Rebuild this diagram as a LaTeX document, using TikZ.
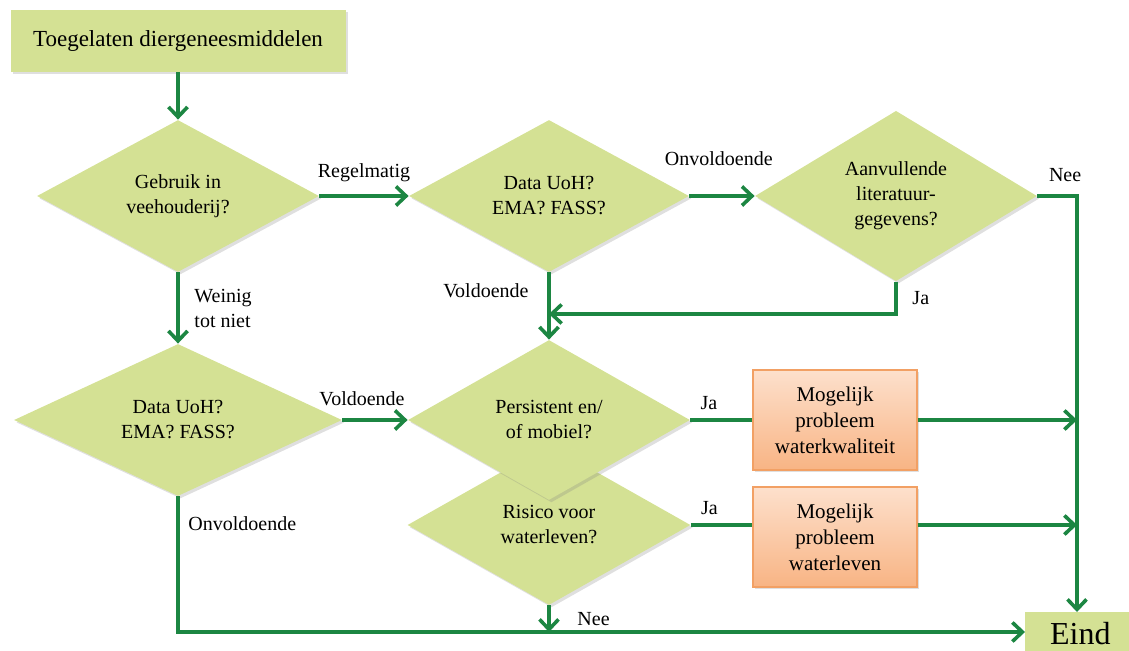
\documentclass[tikz,border=0pt]{standalone}
\usepackage{fontspec}
\setmainfont{Liberation Serif}
\usetikzlibrary{shapes.geometric,arrows.meta,shadows,positioning}

\definecolor{leaf}{RGB}{212,225,148}
\definecolor{flowgreen}{RGB}{28,134,66}
\definecolor{peachtop}{RGB}{253,224,204}
\definecolor{peachbot}{RGB}{248,180,132}
\definecolor{peachedge}{RGB}{242,160,100}

\tikzset{
  zacht/.style={drop shadow={opacity=0.25,shadow xshift=1.2pt,shadow yshift=-1.2pt}},
  keuze/.style={diamond, fill=leaf, inner sep=0pt, align=center, zacht,
    font=\fontsize{10}{12.5}\selectfont},
  blok/.style={rectangle, fill=leaf, inner sep=0pt, align=center, zacht},
  oranje/.style={rectangle, top color=peachtop, bottom color=peachbot, draw=peachedge,
    line width=0.6pt, minimum width=82pt, minimum height=50pt, align=center, zacht,
    font=\fontsize{10.5}{13}\selectfont},
  lijn/.style={draw=flowgreen, line width=1.8pt},
  pijl/.style={lijn, -{Straight Barb[length=5pt,width=9.5pt]}},
  tekst/.style={font=\fontsize{10}{12.5}\selectfont, align=left, text=black}
}

\begin{document}
\begin{tikzpicture}[x=0.5pt,y=-0.5pt]
  \useasboundingbox (0,0) rectangle (1129,651);
  % vakken
  \node[blok, minimum width=167.5pt, minimum height=31pt,
    font=\fontsize{11.5}{14}\selectfont] (start) at (178,41) {Toegelaten diergeneesmiddelen};
  \node[keuze, minimum width=141pt, minimum height=76pt] (gebruik) at (178,196) {Gebruik in\\veehouderij?};
  \node[keuze, minimum width=140pt, minimum height=76pt] (data1) at (549,196) {Data UoH?\\EMA? FASS?};
  \node[keuze, minimum width=141pt, minimum height=76pt] (aanv) at (896,196) {Aanvullende\\literatuur-\\gegevens?};
  \node[keuze, minimum width=164pt, minimum height=75pt] (data2) at (178,420) {Data UoH?\\EMA? FASS?};
  \node[keuze, minimum width=141.5pt, minimum height=80pt] (risico) at (549,525) {Risico voor\\waterleven?};
  \node[keuze, minimum width=141pt, minimum height=80pt] (pers) at (549,420) {Persistent en/\\of mobiel?};
  \node[oranje] (prob1) at (835,420) {Mogelijk\\probleem\\waterkwaliteit};
  \node[oranje] (prob2) at (835,537) {Mogelijk\\probleem\\waterleven};
  \node[blok, minimum width=55pt, minimum height=21pt, anchor=north west,
    font=\fontsize{16}{18}\selectfont] (eind) at (1025,612) {Eind};
  \coordinate (samen) at (549,314);
  % pijlen
  \draw[pijl] (start.south) -- (gebruik.north);
  \draw[pijl] (gebruik.east) -- node[tekst, above=3pt] {Regelmatig} (data1.west);
  \draw[pijl] (data1.east) -- node[tekst, above=11pt, pos=0.45] {Onvoldoende} (aanv.west);
  \draw[pijl] (aanv.east) -| node[tekst, above=3pt, pos=0.35] {Nee} (eind.north -| 1077,0);
  \draw[pijl] (aanv.south) |- node[tekst, right=4pt, pos=0.25] {Ja} (samen);
  \draw[pijl] (data1.south) -- node[tekst, left=6pt, pos=0.27] {Voldoende} (pers.north);
  \draw[pijl] (gebruik.south) -- node[tekst, right=4pt] {Weinig\\tot niet} (data2.north);
  \draw[pijl] (data2.east) -- node[tekst, above=3pt, pos=0.3] {Voldoende} (pers.west);
  \draw[pijl] (data2.south) |- node[tekst, right=1pt, pos=0.1] {Onvoldoende} (eind.west |- 0,632);
  \draw[pijl] (risico.south) -- node[tekst, right=10pt] {Nee} (risico.south |- 0,632);
  \draw[lijn] (pers.east) -- node[tekst, above=1pt, pos=0.3] {Ja} (prob1.west);
  \draw[pijl] (prob1.east) -- (prob1.east -| 1077,0);
  \draw[lijn] (risico.east) -- node[tekst, above=1pt, pos=0.3] {Ja} (risico.east -| prob2.west);
  \draw[pijl] (risico.east -| prob2.east) -- (risico.east -| 1077,0);
\end{tikzpicture}
\end{document}
